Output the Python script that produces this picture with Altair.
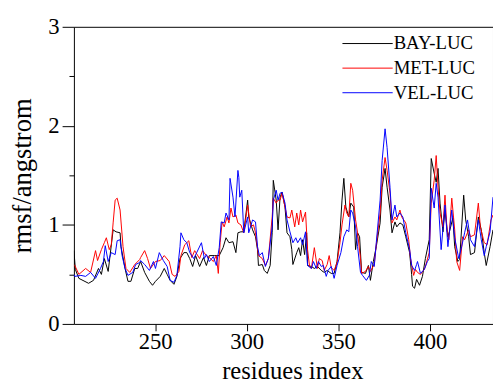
import altair as alt
import pandas as pd

names = ["BAY-LUC", "MET-LUC", "VEL-LUC"]
colors = ["#000000", "#ff0000", "#0000ff"]

bay_res = [205.7, 206.5, 208.4, 213.7, 216.4, 219.1, 220.7, 222.3, 224.4, 227.1, 228.7, 230.9, 231.4, 233.6,
           235.2, 236.8, 238.9, 240.5, 242.1, 244.3, 246.9, 248.6, 250.2, 252.8, 255.0, 256.6, 258.2, 260.3,
           261.9, 263.6, 265.7, 267.3, 268.9, 270.5, 272.1, 274.3, 276.4, 278.0, 279.6, 282.3, 285.0, 287.1,
           288.7, 290.3, 292.5, 294.1, 295.2, 296.8, 298.4, 300.5, 301.1, 303.2, 304.8, 305.9, 306.4, 308.5,
           309.6, 311.2, 312.8, 313.9, 314.5, 316.1, 317.1, 318.2, 319.3, 320.9, 322.0, 323.6, 324.6, 325.2,
           327.3, 328.4, 329.4, 330.5, 331.6, 332.7, 333.2, 335.3, 336.9, 338.6, 340.7, 342.3, 343.9, 346.1,
           347.7, 349.3, 350.9, 352.0, 353.0, 354.1, 355.7, 356.8, 358.4, 359.4, 360.5, 361.6, 362.7, 364.8,
           366.4, 367.5, 369.1, 370.7, 372.8, 373.9, 375.5, 376.6, 378.2, 379.3, 380.9, 381.9, 383.6, 385.2,
           386.8, 388.9, 390.0, 390.5, 391.6, 392.7, 394.3, 395.9, 397.5, 399.6, 400.7, 402.3, 403.4, 404.4,
           405.5, 407.1, 408.2, 409.8, 410.9, 412.5, 413.5, 415.2, 416.2, 418.4, 419.5, 421.1, 422.1, 424.3,
           426.4, 428.0, 429.6, 430.7, 432.8, 434.4]
bay_rmsf = [0.74, 0.55, 0.46, 0.41, 0.44, 0.56, 0.50, 0.66, 0.53, 0.95, 0.93, 0.92, 0.78, 0.56,
            0.43, 0.43, 0.56, 0.56, 0.63, 0.52, 0.43, 0.39, 0.43, 0.48, 0.56, 0.50, 0.44, 0.40,
            0.48, 0.66, 0.72, 0.72, 0.66, 0.58, 0.69, 0.58, 0.67, 0.59, 0.69, 0.69, 0.69, 0.77,
            0.87, 0.82, 0.83, 0.72, 0.92, 0.93, 0.93, 1.25, 1.08, 0.95, 0.88, 0.75, 0.59, 0.60,
            0.54, 0.51, 0.59, 0.92, 1.45, 1.25, 0.95, 1.28, 1.33, 1.18, 0.92, 0.88, 0.75, 0.60,
            0.72, 0.77, 0.69, 0.85, 0.70, 0.92, 0.59, 0.58, 0.56, 0.58, 0.54, 0.52, 0.54, 0.51,
            0.51, 0.63, 0.92, 1.25, 1.47, 1.18, 1.08, 1.22, 1.18, 0.75, 0.92, 0.88, 0.52, 0.51,
            0.59, 0.44, 0.63, 0.78, 1.02, 1.38, 1.57, 1.38, 1.15, 0.92, 1.03, 0.98, 1.02, 1.00,
            0.88, 0.72, 0.50, 0.38, 0.36, 0.45, 0.39, 0.48, 0.66, 0.85, 1.67, 1.52, 1.43, 1.57,
            1.22, 0.93, 1.15, 0.88, 0.95, 1.07, 0.78, 0.63, 0.65, 1.30, 1.05, 0.88, 0.70, 0.72,
            1.08, 0.95, 0.72, 0.59, 0.78, 0.95]

met_res = [205.7, 206.2, 208.4, 212.1, 214.8, 217.5, 218.6, 220.7, 222.3, 223.4, 225.0, 226.1, 227.1, 228.2,
           229.3, 230.9, 232.5, 234.1, 236.2, 238.9, 241.6, 242.1, 244.3, 245.9, 247.5, 250.2, 252.8, 255.0,
           257.7, 259.3, 260.9, 263.0, 264.1, 266.2, 268.4, 270.0, 271.6, 274.3, 275.9, 278.0, 279.6, 281.8,
           283.4, 284.5, 285.5, 286.6, 287.7, 289.3, 290.3, 291.4, 292.5, 294.1, 295.2, 296.8, 298.4, 300.5,
           302.1, 303.7, 304.8, 306.4, 308.5, 310.2, 311.8, 313.9, 314.5, 316.1, 317.1, 318.2, 319.3, 320.9,
           322.0, 323.6, 324.6, 326.2, 327.3, 328.4, 329.4, 330.5, 332.1, 333.2, 334.3, 335.3, 336.9, 338.6,
           339.6, 341.2, 342.3, 343.9, 345.0, 346.1, 347.7, 349.3, 350.9, 352.0, 353.6, 354.6, 355.7, 356.8,
           357.8, 359.4, 360.5, 362.1, 362.7, 364.8, 366.4, 367.5, 369.6, 370.7, 372.8, 373.9, 375.5, 376.6,
           378.2, 379.3, 380.9, 381.9, 383.6, 384.6, 386.8, 388.4, 389.4, 391.1, 392.1, 393.2, 394.8, 396.9,
           397.5, 399.6, 400.7, 402.3, 403.4, 404.4, 405.5, 407.1, 408.2, 409.3, 410.3, 411.9, 413.5, 414.6,
           416.2, 417.8, 418.9, 421.1, 422.1, 424.3, 426.4, 427.5, 429.6, 431.2, 433.3, 434.4]
met_rmsf = [0.60, 0.59, 0.50, 0.56, 0.52, 0.74, 0.64, 0.75, 0.82, 0.87, 0.75, 0.80, 1.02, 1.25,
            1.27, 1.15, 0.78, 0.56, 0.52, 0.60, 0.65, 0.67, 0.74, 0.66, 0.56, 0.63, 0.64, 0.69,
            0.63, 0.50, 0.48, 0.53, 0.69, 0.80, 0.84, 0.67, 0.74, 0.66, 0.74, 0.69, 0.67, 0.63,
            0.69, 0.51, 0.82, 1.03, 0.98, 1.08, 1.02, 1.17, 1.08, 1.10, 1.02, 1.00, 0.92, 1.20,
            0.98, 1.00, 0.92, 0.69, 0.66, 0.59, 0.66, 1.08, 1.27, 1.22, 1.25, 1.25, 1.32, 1.18,
            1.08, 1.07, 1.15, 0.98, 1.12, 1.00, 1.15, 1.03, 1.13, 0.75, 0.58, 0.56, 0.77, 0.56,
            0.66, 0.64, 0.54, 0.60, 0.69, 0.57, 0.54, 0.62, 0.82, 1.00, 1.20, 1.12, 1.08, 1.42,
            1.35, 1.05, 0.92, 0.66, 0.51, 0.53, 0.58, 0.53, 0.60, 0.80, 1.12, 1.45, 1.68, 1.55,
            1.32, 1.02, 1.08, 1.05, 1.15, 1.08, 1.02, 0.85, 0.66, 0.49, 0.55, 0.52, 0.50, 0.55,
            0.58, 0.72, 1.22, 1.45, 1.70, 1.38, 1.12, 0.98, 1.30, 0.95, 0.85, 1.27, 0.95, 0.63,
            0.54, 0.88, 0.85, 0.95, 0.88, 0.90, 1.22, 0.98, 0.82, 0.80, 1.05, 1.10]

vel_res = [205.7, 206.2, 209.5, 212.1, 214.8, 217.5, 220.2, 221.8, 222.8, 224.4, 226.1, 228.2, 229.3, 230.9,
           232.0, 233.6, 235.2, 237.8, 239.4, 241.6, 242.1, 244.3, 246.9, 249.1, 250.2, 252.3, 254.5, 256.6,
           258.2, 260.3, 261.9, 263.6, 264.1, 265.7, 267.3, 268.9, 271.1, 272.7, 275.3, 276.9, 278.0, 279.6,
           281.8, 283.4, 285.0, 286.1, 287.7, 288.7, 290.3, 290.9, 292.5, 293.6, 295.2, 295.7, 296.2, 297.3,
           298.4, 300.5, 301.1, 303.2, 304.8, 305.9, 306.9, 308.5, 310.2, 311.8, 313.9, 314.5, 316.1, 317.1,
           318.2, 319.3, 320.9, 322.0, 323.6, 325.2, 326.8, 327.8, 329.4, 330.5, 332.1, 333.2, 335.3, 336.4,
           338.0, 339.1, 340.7, 341.8, 343.4, 344.4, 346.1, 347.7, 349.3, 351.4, 353.0, 354.6, 355.7, 356.8,
           357.8, 359.4, 360.5, 362.1, 363.2, 365.3, 366.9, 368.0, 369.6, 370.7, 372.8, 373.9, 375.5, 376.6,
           378.2, 379.3, 380.9, 381.9, 383.6, 385.2, 386.8, 388.9, 390.0, 391.6, 392.7, 393.2, 394.8, 396.9,
           398.6, 399.6, 400.7, 402.3, 403.4, 404.4, 406.1, 408.2, 409.8, 411.9, 413.5, 415.7, 417.3, 418.9,
           420.5, 422.1, 424.3, 426.4, 428.0, 429.6, 430.7, 432.8, 434.4]
vel_rmsf = [0.50, 0.48, 0.49, 0.48, 0.52, 0.46, 0.56, 0.63, 0.79, 0.63, 0.72, 0.70, 0.84, 0.85,
            0.69, 0.56, 0.49, 0.52, 0.60, 0.62, 0.64, 0.60, 0.54, 0.63, 0.56, 0.72, 0.64, 0.58,
            0.44, 0.42, 0.49, 0.78, 0.92, 0.85, 0.82, 0.72, 0.66, 0.72, 0.82, 0.66, 0.70, 0.63,
            0.68, 0.59, 0.77, 1.03, 1.02, 1.12, 1.05, 1.47, 1.28, 1.08, 1.55, 1.48, 1.28, 1.35,
            0.92, 1.08, 0.92, 1.05, 1.03, 0.78, 0.69, 0.72, 0.58, 0.66, 0.98, 1.25, 1.35, 1.25,
            1.32, 1.33, 1.22, 1.05, 0.93, 0.82, 0.87, 0.82, 0.87, 0.80, 0.93, 0.59, 0.56, 0.63,
            0.56, 0.63, 0.58, 0.59, 0.48, 0.54, 0.58, 0.46, 0.59, 0.72, 0.88, 0.95, 0.93, 1.15,
            1.12, 0.98, 0.78, 0.52, 0.49, 0.44, 0.49, 0.63, 0.58, 0.82, 1.25, 1.65, 1.97, 1.78,
            1.38, 1.05, 1.20, 1.08, 1.12, 1.08, 0.92, 0.75, 0.59, 0.54, 0.60, 0.63, 0.51, 0.55,
            0.63, 0.66, 1.37, 1.17, 1.42, 1.28, 0.75, 1.20, 0.78, 1.15, 0.87, 0.66, 0.78, 0.92,
            1.05, 0.85, 0.78, 1.05, 0.85, 0.69, 0.78, 0.93, 1.28]

x_ticks = [250, 300, 350, 400]
y_ticks = [0, 0.5, 1, 1.5, 2, 2.5, 3]

rows = []
for name, res, vals in [(names[0], bay_res, bay_rmsf), (names[1], met_res, met_rmsf), (names[2], vel_res, vel_rmsf)]:
    for r, v in zip(res, vals):
        rows.append({"series": name, "residue": r, "rmsf": v})
df = pd.DataFrame(rows)

FONT = "Liberation Serif, Times New Roman, DejaVu Serif, serif"

chart = alt.Chart(df).mark_line(strokeWidth=1, clip=True).encode(
    x=alt.X("residue:Q",
            scale=alt.Scale(domain=[205.7, 434.4], nice=False, zero=False),
            axis=alt.Axis(values=x_ticks, title="residues index", tickSize=7, labelPadding=0,
                          labelFontSize=23, titleFontSize=25, titleFontWeight="normal",
                          titleBaseline="alphabetic", titleX=222, titleY=56,
                          grid=False, domain=False, tickColor="black", labelColor="black",
                          titleColor="black", labelFont=FONT, titleFont=FONT)),
    y=alt.Y("rmsf:Q",
            scale=alt.Scale(domain=[0, 3], nice=False),
            axis=alt.Axis(values=y_ticks, title="rmsf/angstrom",
                          tickSize={"condition": {"test": "datum.value % 1 === 0", "value": 12}, "value": 5},
                          labelExpr="datum.value % 1 === 0 ? '' + datum.value : ''",
                          labelPadding=3, labelFontSize=23, titleFontSize=27, titleFontWeight="normal",
                          titleBaseline="middle", titleX=-52, titleY=151,
                          grid=False, domain=False, tickColor="black", labelColor="black",
                          titleColor="black", labelFont=FONT, titleFont=FONT)),
    color=alt.Color("series:N",
                    scale=alt.Scale(domain=names, range=colors),
                    legend=alt.Legend(title=None, orient="none", legendX=289, legendY=7.5,
                                      symbolType="M-3,0H3", symbolSize=290, symbolStrokeWidth=1,
                                      labelFontSize=19, labelFont=FONT, labelColor="black",
                                      labelOffset=17, rowPadding=5, padding=0)),
).properties(
    width=426, height=302,
    autosize="none",
    padding={"left": 67, "top": 16, "right": 0, "bottom": 61},
).configure(
    font=FONT
).configure_view(
    stroke="black", strokeWidth=1
)

chart.save("out.html", embed_options={"renderer": "svg", "actions": False})
